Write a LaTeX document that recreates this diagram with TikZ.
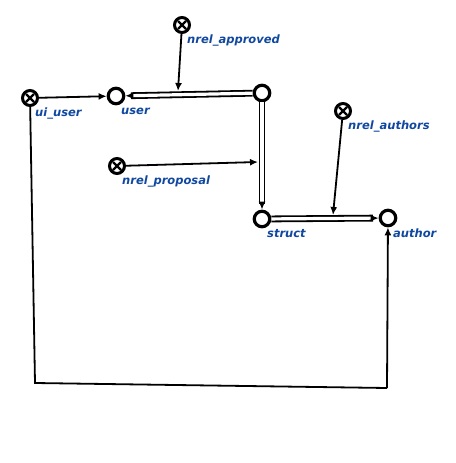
\documentclass[tikz,border=0pt]{standalone}
\usepackage{fontspec}
\setmainfont{DejaVu Sans}
\usetikzlibrary{arrows.meta,calc}
\definecolor{lblblue}{RGB}{16,72,160}
\tikzset{
  plainnode/.style={circle,draw=black,line width=3.2pt,fill=white,minimum size=15.5pt,inner sep=0pt},
  crossnode/.style={circle,draw=black,line width=3pt,fill=white,minimum size=15pt,inner sep=0pt,
    path picture={\draw[line width=2.2pt] ($(path picture bounding box.center)+(-4,-4)$) -- ($(path picture bounding box.center)+(4,4)$);
                  \draw[line width=2.2pt] ($(path picture bounding box.center)+(-4,4)$) -- ($(path picture bounding box.center)+(4,-4)$);}},
  lbl/.style={anchor=west,inner sep=0pt,text=lblblue,font=\fontsize{11.5}{13}\selectfont\bfseries\itshape},
  arr/.style={line width=1.8pt,-{Latex[length=8pt,width=7pt]}},
  dbl/.style={line width=1.8pt,double=white,double distance=3.2pt},
  plainline/.style={line width=1.8pt}
}
\begin{document}
\begin{tikzpicture}[x=1pt,y=-1pt]
\useasboundingbox (0,0) rectangle (455,463);
% nodes
\node[crossnode] (approved) at (182,25) {};
\node[crossnode] (uiuser) at (30,98) {};
\node[plainnode] (user) at (116,96) {};
\node[plainnode] (hub) at (262,93) {};
\node[crossnode] (proposal) at (117,166) {};
\node[crossnode] (authors) at (343,111) {};
\node[plainnode] (struct) at (262,219) {};
\node[plainnode] (author) at (388,218) {};
% labels
\node[lbl] (l1) at (187,40) {nrel\_approved};
\node[lbl] (l2) at (35,113) {ui\_user};
\node[lbl] (l3) at (121,111) {user};
\node[lbl] (l4) at (122,181) {nrel\_proposal};
\node[lbl] (l5) at (348,126) {nrel\_authors};
\node[lbl] (l6) at (267,234) {struct};
\node[lbl] (l7) at (393,233) {author};
% double connectors
\draw[dbl] (hub) -- ($(user)!15pt!(hub)$);
\draw[arr] ($(user)!16pt!(hub)$) -- (user);
\draw[dbl] (hub) -- ($(struct)!15pt!(hub)$);
\draw[arr] ($(struct)!16pt!(hub)$) -- (struct);
\draw[dbl] (struct) -- ($(author)!15pt!(struct)$);
\draw[arr] ($(author)!16pt!(struct)$) -- (author);
% attribute arrows
\coordinate (c1) at (178,91);
\coordinate (c2) at (258,162);
\coordinate (c3) at (333,215);
\draw[arr] (approved) -- (c1);
\draw[arr] (proposal) -- (c2);
\draw[arr] (authors) -- (c3);
\draw[arr] (uiuser) -- (user);
% long route
\coordinate (b1) at (35,383);
\coordinate (b2) at (387,388);
\draw[plainline] (uiuser) -- (b1) -- (b2);
\draw[arr] (b2) -- (author);
\end{tikzpicture}
\end{document}
